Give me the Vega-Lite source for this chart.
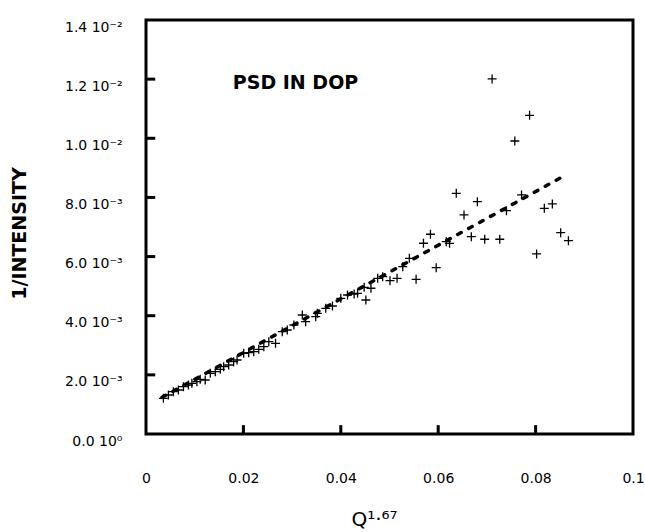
{
  "$schema": "https://vega.github.io/schema/vega-lite/v6.json",
  "width": 487,
  "height": 414,
  "autosize": {"type": "none"},
  "padding": {"left": 146, "top": 20, "right": 12, "bottom": 98},
  "background": "white",
  "config": {
    "view": {"stroke": "black", "strokeWidth": 3},
    "axis": {
      "grid": false,
      "domain": false,
      "ticks": false,
      "labelColor": "black",
      "labelFont": "DejaVu Sans",
      "titleColor": "black",
      "titleFont": "DejaVu Sans",
      "titleFontWeight": "bold"
    }
  },
  "datasets": {
    "pts": [
      {"q": 0.00357, "inv": 0.001207}, {"q": 0.0046, "inv": 0.001319}, {"q": 0.00563, "inv": 0.001431},
      {"q": 0.00666, "inv": 0.001488}, {"q": 0.00769, "inv": 0.0016}, {"q": 0.00872, "inv": 0.001657},
      {"q": 0.00942, "inv": 0.001715}, {"q": 0.01045, "inv": 0.001769}, {"q": 0.01113, "inv": 0.00185},
      {"q": 0.01216, "inv": 0.001826}, {"q": 0.0132, "inv": 0.002053}, {"q": 0.01423, "inv": 0.002107},
      {"q": 0.01526, "inv": 0.002188}, {"q": 0.01594, "inv": 0.002276}, {"q": 0.01697, "inv": 0.002334},
      {"q": 0.018, "inv": 0.002445}, {"q": 0.0187, "inv": 0.002503}, {"q": 0.02006, "inv": 0.002729},
      {"q": 0.02109, "inv": 0.00275}, {"q": 0.02212, "inv": 0.002783}, {"q": 0.02315, "inv": 0.002865},
      {"q": 0.02419, "inv": 0.002952}, {"q": 0.02522, "inv": 0.003122}, {"q": 0.0266, "inv": 0.003067},
      {"q": 0.02798, "inv": 0.00346}, {"q": 0.02901, "inv": 0.003517}, {"q": 0.03037, "inv": 0.003686},
      {"q": 0.03278, "inv": 0.003798}, {"q": 0.0321, "inv": 0.004025}, {"q": 0.03485, "inv": 0.003967},
      {"q": 0.0352, "inv": 0.004082}, {"q": 0.03691, "inv": 0.004251}, {"q": 0.03829, "inv": 0.004329},
      {"q": 0.04, "inv": 0.004589}, {"q": 0.04138, "inv": 0.004701}, {"q": 0.04274, "inv": 0.004735},
      {"q": 0.04344, "inv": 0.004758}, {"q": 0.04515, "inv": 0.004532}, {"q": 0.0448, "inv": 0.004961},
      {"q": 0.04619, "inv": 0.004928}, {"q": 0.04757, "inv": 0.005266}, {"q": 0.0486, "inv": 0.00532},
      {"q": 0.0501, "inv": 0.005185}, {"q": 0.05155, "inv": 0.005266}, {"q": 0.05272, "inv": 0.005658},
      {"q": 0.05408, "inv": 0.005942}, {"q": 0.05546, "inv": 0.005232}, {"q": 0.05697, "inv": 0.00645},
      {"q": 0.05841, "inv": 0.006754}, {"q": 0.05959, "inv": 0.005624}, {"q": 0.06165, "inv": 0.006504},
      {"q": 0.06233, "inv": 0.006449}, {"q": 0.0653, "inv": 0.007407}, {"q": 0.0668, "inv": 0.006673},
      {"q": 0.06804, "inv": 0.007856}, {"q": 0.07107, "inv": 0.012006}, {"q": 0.07876, "inv": 0.010778},
      {"q": 0.07573, "inv": 0.009909}, {"q": 0.06371, "inv": 0.00814}, {"q": 0.06955, "inv": 0.006585},
      {"q": 0.07264, "inv": 0.006585}, {"q": 0.07402, "inv": 0.007552}, {"q": 0.07711, "inv": 0.008083},
      {"q": 0.08179, "inv": 0.007633}, {"q": 0.08344, "inv": 0.007779}, {"q": 0.08515, "inv": 0.006808},
      {"q": 0.08674, "inv": 0.006537}, {"q": 0.08021, "inv": 0.006088}
    ],
    "fit": [
      {"q": 0.0033, "inv": 0.00124},
      {"q": 0.0862, "inv": 0.00876}
    ],
    "note": [
      {"q": 0.0307, "inv": 0.01187, "label": "PSD IN DOP"}
    ],
    "xticks": [{"q": 0.02}, {"q": 0.04}, {"q": 0.06}, {"q": 0.08}],
    "yticks": [{"inv": 0.002}, {"inv": 0.004}, {"inv": 0.006}, {"inv": 0.008}, {"inv": 0.01}, {"inv": 0.012}]
  },
  "layer": [
    {
      "data": {"name": "pts"},
      "mark": {
        "type": "point",
        "shape": "M-1,0L1,0M0,-1L0,1",
        "filled": false,
        "size": 80,
        "strokeWidth": 1.3,
        "color": "black",
        "opacity": 1
      },
      "encoding": {
        "x": {
          "field": "q",
          "type": "quantitative",
          "scale": {"domain": [0, 0.1], "nice": false, "zero": false},
          "axis": {
            "values": [0, 0.02, 0.04, 0.06, 0.08, 0.1],
            "labelExpr": "datum.value == 0 ? '0' : format(datum.value, '.2~f')",
            "labelFontSize": 14,
            "labelPadding": 37,
            "labelFlush": false,
            "title": "Q¹·⁶⁷",
            "titleFontSize": 20,
            "titleFontWeight": "normal",
            "titleX": 228,
            "titleY": 91,
            "titleBaseline": "alphabetic"
          }
        },
        "y": {
          "field": "inv",
          "type": "quantitative",
          "scale": {"domain": [0, 0.014], "nice": false, "zero": false},
          "axis": {
            "values": [0, 0.002, 0.004, 0.006, 0.008, 0.01, 0.012, 0.014],
            "labelExpr": "datum.value < 0.0001 ? '0.0 10⁰' : datum.value < 0.0099 ? format(datum.value * 1000, '.1f') + ' 10⁻³' : format(datum.value * 100, '.1f') + ' 10⁻²'",
            "labelFontSize": 14,
            "labelPadding": 24,
            "labelBaseline": "top",
            "labelOffset": 0,
            "labelFlush": false,
            "title": "1/INTENSITY",
            "titleFontSize": 19,
            "titleAngle": 270,
            "titleX": -127,
            "titleY": 213,
            "titleAlign": "center",
            "titleBaseline": "middle"
          }
        }
      }
    },
    {
      "data": {"name": "xticks"},
      "mark": {"type": "rule", "color": "black", "strokeWidth": 3},
      "encoding": {
        "x": {"field": "q", "type": "quantitative"},
        "y": {"datum": 0},
        "y2": {"datum": 0.0003}
      }
    },
    {
      "data": {"name": "yticks"},
      "mark": {"type": "rule", "color": "black", "strokeWidth": 3},
      "encoding": {
        "y": {"field": "inv", "type": "quantitative"},
        "x": {"datum": 0},
        "x2": {"datum": 0.0019}
      }
    },
    {
      "data": {"name": "fit"},
      "mark": {
        "type": "line",
        "color": "black",
        "strokeWidth": 3.5,
        "strokeDash": [4, 8.5],
        "strokeCap": "round"
      },
      "encoding": {
        "x": {"field": "q", "type": "quantitative"},
        "y": {"field": "inv", "type": "quantitative"}
      }
    },
    {
      "data": {"name": "note"},
      "mark": {
        "type": "text",
        "font": "DejaVu Sans",
        "fontWeight": "bold",
        "fontSize": 19,
        "color": "black",
        "align": "center",
        "baseline": "middle"
      },
      "encoding": {
        "x": {"field": "q", "type": "quantitative"},
        "y": {"field": "inv", "type": "quantitative"},
        "text": {"field": "label", "type": "nominal"}
      }
    }
  ]
}
